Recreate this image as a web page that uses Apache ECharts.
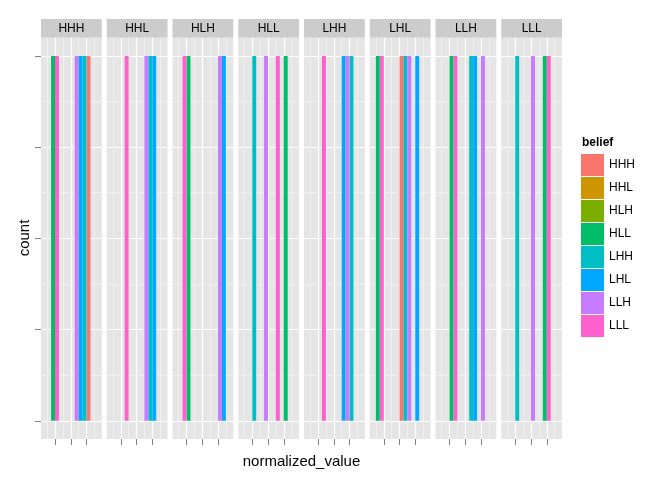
<!DOCTYPE html>
<html>
<head>
<meta charset="utf-8">
<script src="https://cdn.jsdelivr.net/npm/echarts@6/dist/echarts.min.js"></script>
<style>
  html, body { margin: 0; padding: 0; background: #fff; }
  #chart { width: 672px; height: 480px; }
</style>
</head>
<body>
<div id="chart"></div>
<script>
// facet labels and fill levels
const facets = ['HHH', 'HHL', 'HLH', 'HLL', 'LHH', 'LHL', 'LLH', 'LLL'];
const beliefs = ['HHH', 'HHL', 'HLH', 'HLL', 'LHH', 'LHL', 'LLH', 'LLL'];
const beliefColors = ['#F8766D', '#CD9600', '#7CAE00', '#00BE67', '#00BFC4', '#00A9FF', '#C77CFF', '#FF61CC'];

const binWidth = 0.25;
const xTicks = [0, 1, 2];
const xMinorTicks = [-0.5, 0.5, 1.5, 2.5];
const yTicks = [0, 0.25, 0.5, 0.75, 1];
const yMinorTicks = [0.125, 0.375, 0.625, 0.875];

// left edge of each bin, its fill and its count, per facet
const binsHHH = [-0.25, 0, 1.25, 1.5, 1.75, 2];
const fillHHH = ['HLL', 'LLL', 'LLH', 'LHL', 'LHH', 'HHH'];
const countHHH = [1, 1, 1, 1, 1, 1];

const binsHHL = [0.25, 1.5, 1.75, 2];
const fillHHL = ['LLL', 'LLH', 'LHH', 'LHL'];
const countHHL = [1, 1, 1, 1];

const binsHLH = [-0.25, 0, 2, 2.25];
const fillHLH = ['LLL', 'HLL', 'LLH', 'LHL'];
const countHLH = [1, 1, 1, 1];

const binsHLL = [0, 0.75, 1.5, 2];
const fillHLL = ['LHH', 'LLH', 'LLL', 'HLL'];
const countHLL = [1, 1, 1, 1];

const binsLHH = [0.25, 1.5, 1.75, 2];
const fillLHH = ['LLL', 'LHL', 'LLH', 'LHH'];
const countLHH = [1, 1, 1, 1];

const binsLHL = [-0.5, -0.25, 1, 1.25, 1.5, 2];
const fillLHL = ['HLL', 'LLL', 'HHH', 'LHH', 'LLH', 'LHL'];
const countLHL = [1, 1, 1, 1, 1, 1];

const binsLLH = [0, 0.25, 1.25, 1.5, 2];
const fillLLH = ['HLL', 'LLL', 'LHH', 'LHL', 'LLH'];
const countLLH = [1, 1, 1, 1, 1];

const binsLLL = [0, 1, 1.75, 2];
const fillLLL = ['LHH', 'LLH', 'HLL', 'LLL'];
const countLLL = [1, 1, 1, 1];

const facetBins = [binsHHH, binsHHL, binsHLH, binsHLL, binsLHH, binsLHL, binsLLH, binsLLL];
const facetFill = [fillHHH, fillHHL, fillHLH, fillHLL, fillLHH, fillLHL, fillLLH, fillLLL];
const facetCount = [countHHH, countHHL, countHLH, countHLL, countLHH, countLHL, countLLH, countLLL];

const font = "'Liberation Sans', Arial, sans-serif";
const panelLeft = 41, panelStep = 65.75, panelWidth = 60.8;
const panelTop = 37.7, panelHeight = 401.3;

function renderBar(params, api) {
    const p0 = api.coord([api.value(0), api.value(2)]);
    const p1 = api.coord([api.value(1), 0]);
    return {
        type: 'rect',
        shape: { x: p0[0], y: p0[1], width: p1[0] - p0[0], height: p1[1] - p0[1] },
        style: { fill: api.visual('color') }
    };
}

const grids = [], xAxes = [], yAxes = [], series = [], graphics = [];
const majorLine = { show: true, lineStyle: { color: '#FFFFFF', width: 1.2 } };
const minorLine = { show: true, lineStyle: { color: '#F2F2F2', width: 0.8 } };
const tickStyle = { color: '#7F7F7F', width: 1 };

facets.forEach((facet, p) => {
    const left = panelLeft + panelStep * p;
    grids.push({
        left: left, top: panelTop, width: panelWidth, height: panelHeight,
        show: true, backgroundColor: '#E5E5E5', borderWidth: 0
    });
    graphics.push({
        type: 'rect',
        shape: { x: left, y: 19, width: panelWidth, height: panelTop - 19 },
        style: { fill: '#CCCCCC' }
    });
    graphics.push({
        type: 'text', x: left + panelWidth / 2, y: (19 + panelTop) / 2,
        style: { text: facet, fill: '#000', font: '12px ' + font, align: 'center', verticalAlign: 'middle' }
    });

    // major axes (with ticks)
    xAxes[p] = {
        type: 'value', gridIndex: p, position: 'bottom', min: -0.889, max: 2.971,
        axisLine: { show: false, onZero: false },
        axisTick: { show: true, length: 6, lineStyle: tickStyle, customValues: xTicks },
        axisLabel: { show: false },
        splitLine: majorLine
    };
    yAxes[p] = {
        type: 'value', gridIndex: p, position: 'left', min: -0.05, max: 1.05,
        axisLine: { show: false, onZero: false },
        axisTick: {
            show: true, length: 6, customValues: yTicks,
            lineStyle: p === 0 ? tickStyle : { color: 'rgba(0,0,0,0)', width: 1 }
        },
        axisLabel: { show: false },
        splitLine: majorLine
    };
    // minor grid lines
    xAxes[p + facets.length] = {
        type: 'value', gridIndex: p, position: 'top', min: -0.889, max: 2.971,
        axisLine: { show: false, onZero: false },
        axisTick: { show: true, length: 0, lineStyle: { color: 'rgba(0,0,0,0)' }, customValues: xMinorTicks },
        axisLabel: { show: false },
        splitLine: minorLine
    };
    yAxes[p + facets.length] = {
        type: 'value', gridIndex: p, position: 'right', min: -0.05, max: 1.05,
        axisLine: { show: false, onZero: false },
        axisTick: { show: true, length: 0, lineStyle: { color: 'rgba(0,0,0,0)' }, customValues: yMinorTicks },
        axisLabel: { show: false },
        splitLine: minorLine
    };

    beliefs.forEach((b, bi) => {
        const data = [];
        facetFill[p].forEach((f, i) => {
            if (f === b) data.push([facetBins[p][i], facetBins[p][i] + binWidth, facetCount[p][i]]);
        });
        if (data.length || p === 0) {
            series.push({
                type: 'custom', name: b, xAxisIndex: p, yAxisIndex: p,
                itemStyle: { color: beliefColors[bi] },
                encode: { x: [0, 1], y: 2 },
                renderItem: renderBar,
                data: data, silent: true, z: 5
            });
        }
    });
});

graphics.push({
    type: 'text', x: (panelLeft + panelLeft + panelStep * 7 + panelWidth) / 2, y: 462,
    style: { text: 'normalized_value', fill: '#000', font: '15px ' + font, align: 'center', verticalAlign: 'middle' }
});
graphics.push({
    type: 'text', x: 25, y: 238, rotation: Math.PI / 2,
    style: { text: 'count', fill: '#000', font: '15px ' + font, align: 'center', verticalAlign: 'middle' }
});
graphics.push({
    type: 'text', x: 582, y: 143,
    style: { text: 'belief', fill: '#000', font: 'bold 12px ' + font, align: 'left', verticalAlign: 'middle' }
});

const chart = echarts.init(document.getElementById('chart'));
chart.setOption({
    animation: false,
    backgroundColor: '#FFFFFF',
    grid: grids,
    xAxis: xAxes,
    yAxis: yAxes,
    legend: {
        data: beliefs, orient: 'vertical', left: 581, top: 154, padding: 0,
        icon: 'rect', itemWidth: 23, itemHeight: 22, itemGap: 1, selectedMode: false,
        textStyle: { fontSize: 12, fontFamily: font, color: '#000' }
    },
    graphic: graphics,
    series: series
});
</script>
</body>
</html>
